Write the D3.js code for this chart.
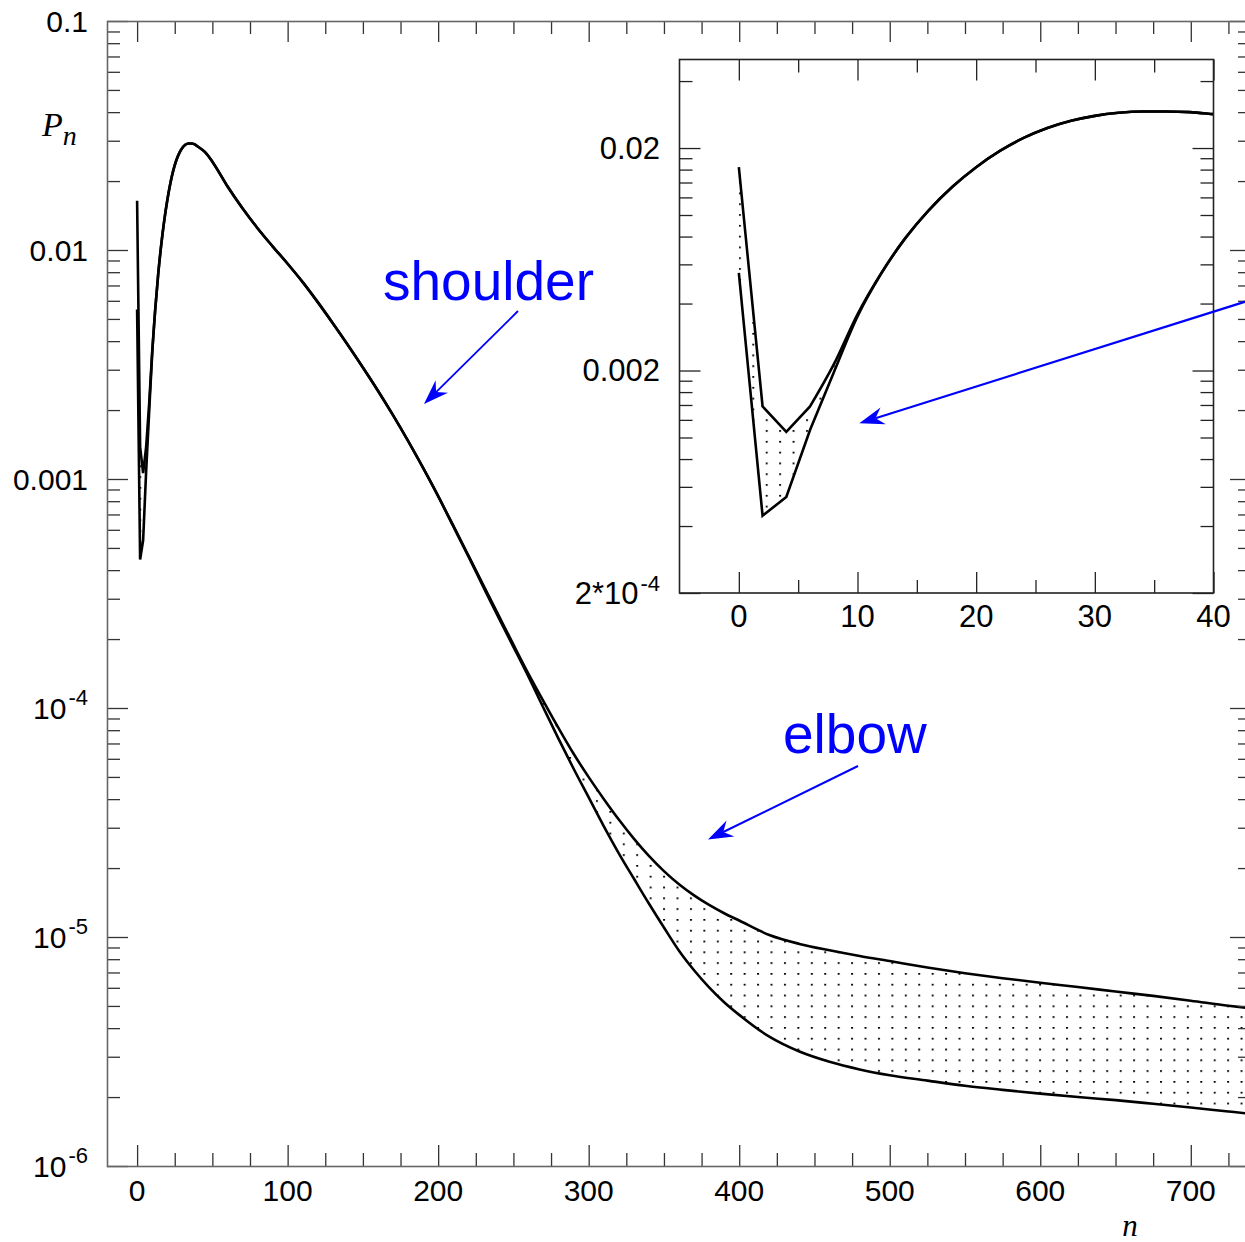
<!DOCTYPE html>
<html>
<head>
<meta charset="utf-8">
<script src="https://cdn.jsdelivr.net/npm/d3@7"></script>
<style>
  html, body { margin: 0; padding: 0; background: #fff; }
  svg { display: block; }
</style>
</head>
<body>
<svg id="chart" width="1245" height="1242"></svg>
<script>
// Occupation probability P_n for two parameter sets: they coincide up to the
// "shoulder" and separate past the "elbow"; the band between them is dotted.
const nValues = [0, 2, 4, 6, 8, 10, 12, 14, 16, 18, 20, 22, 24, 26, 28, 30, 32, 34, 36, 38, 40,
  45, 50, 60, 70, 80, 90, 100, 110, 120, 130, 140, 150, 160, 170, 180, 190, 200, 210, 220,
  230, 240, 250, 260, 270, 280, 290, 300, 310, 320, 330, 340, 350, 360, 370, 380, 390, 400,
  420, 440, 460, 480, 500, 525, 550, 575, 600, 625, 650, 675, 700, 725, 740];

const upperPn = [0.0164, 0.00138, 0.00106, 0.00138, 0.00213, 0.00358, 0.00548, 0.00783, 0.0105,
  0.0134, 0.0164, 0.0194, 0.0222, 0.0246, 0.0265, 0.0279, 0.0288, 0.0292, 0.0292, 0.0290, 0.0284,
  0.0268, 0.0243, 0.01897, 0.0152, 0.01245, 0.01038, 0.00871, 0.00724, 0.00592, 0.00479, 0.00385,
  0.00307, 0.00243, 0.00190, 0.001466, 0.001117, 0.000841, 0.000627, 0.000465,
  0.000344, 0.000255, 0.000189, 0.000141, 0.000107, 8.17e-5, 6.31e-5, 4.99e-5, 4.01e-5, 3.26e-5,
  2.69e-5, 2.26e-5, 1.94e-5, 1.70e-5, 1.52e-5, 1.38e-5, 1.27e-5, 1.18e-5,
  1.02e-5, 9.33e-6, 8.75e-6, 8.26e-6, 7.85e-6, 7.36e-6, 6.95e-6, 6.61e-6, 6.31e-6, 6.05e-6,
  5.78e-6, 5.53e-6, 5.27e-6, 5.01e-6, 4.88e-6];

const lowerPn = [0.0055, 0.000445, 0.00054, 0.00108, 0.00196, 0.00350, 0.00545, 0.00783, 0.0105,
  0.0134, 0.0164, 0.0194, 0.0222, 0.0246, 0.0265, 0.0279, 0.0288, 0.0292, 0.0292, 0.0290, 0.0284,
  0.0268, 0.0243, 0.01897, 0.0152, 0.01245, 0.01038, 0.00871, 0.00724, 0.00592, 0.00479, 0.00385,
  0.00307, 0.00243, 0.00190, 0.001466, 0.001117, 0.000841, 0.000622, 0.000460,
  0.000338, 0.000249, 0.000185, 0.000137, 1.00e-4, 7.33e-5, 5.43e-5, 4.07e-5, 3.05e-5, 2.32e-5,
  1.80e-5, 1.40e-5, 1.10e-5, 8.71e-6, 7.16e-6, 6.03e-6, 5.19e-6, 4.57e-6,
  3.67e-6, 3.16e-6, 2.85e-6, 2.64e-6, 2.49e-6, 2.36e-6, 2.24e-6, 2.15e-6, 2.07e-6, 2.00e-6,
  1.94e-6, 1.87e-6, 1.80e-6, 1.73e-6, 1.69e-6];

const mainXTicks = [0, 100, 200, 300, 400, 500, 600, 700];
const mainYTicks = [1e-1, 1e-2, 1e-3, 1e-4, 1e-5, 1e-6];
const insetXTicks = [0, 10, 20, 30, 40];
const insetYTicks = [2e-4, 2e-3, 2e-2];
const insetYTickLabels = [["2*10", "-4"], ["0.002", ""], ["0.02", ""]];
const annotationTexts = ["shoulder", "elbow"];

const data = nValues.map((n, i) => ({ n, hi: upperPn[i], lo: lowerPn[i] }));
// the first few even-n points are joined by straight segments, the rest smoothly
const SPLIT_N = 6;
const headData = data.filter(d => d.n <= SPLIT_N);
const tailData = data.filter(d => d.n >= SPLIT_N);

const svg = d3.select("#chart");
const FONT = "'Liberation Sans', Arial, Helvetica, sans-serif";
const SERIF = "'Liberation Serif', 'Times New Roman', serif";

// ---------- main panel ----------
const M = { left: 107, right: 1251, top: 21, bottom: 1166 };
const x = d3.scaleLinear().domain([-20, 740]).range([M.left, M.right]);
const y = d3.scaleLog().domain([1e-6, 0.1]).range([M.bottom, M.top]);

const defs = svg.append("defs");
function dotPattern(id, ox, oy) {
  const p = defs.append("pattern").attr("id", id)
    .attr("patternUnits", "userSpaceOnUse")
    .attr("x", ox).attr("y", oy).attr("width", 13.43).attr("height", 10.8);
  p.append("rect").attr("x", 0).attr("y", 0).attr("width", 2).attr("height", 1.7).attr("fill", "#000");
}
dotPattern("dotsMain", 5, 1);
dotPattern("dotsInset", 0.2, 8.9);

defs.append("clipPath").attr("id", "clipMain").append("rect")
  .attr("x", M.left).attr("y", M.top).attr("width", M.right - M.left).attr("height", M.bottom - M.top);

function logMinor(lo, hi, steps) {
  const out = [];
  for (let e = Math.floor(Math.log10(lo)) - 1; e <= Math.ceil(Math.log10(hi)); e++) {
    for (const m of steps) {
      const v = +(m * Math.pow(10, e)).toPrecision(4);
      if (v > lo * 1.0001 && v < hi * 0.9999) out.push(v);
    }
  }
  return out;
}
const mainXMinor = d3.range(0, 741, 25).filter(v => v % 100 !== 0);
const mainYMinor = logMinor(1e-6, 0.1, [2, 3, 4, 5, 6, 7, 8, 9]);

function drawTicks(g, scale, orient, pos, values, len, color) {
  const axisFn = { bottom: d3.axisBottom, top: d3.axisTop, left: d3.axisLeft, right: d3.axisRight }[orient];
  const ax = axisFn(scale).tickValues(values).tickSize(-len).tickSizeOuter(0).tickFormat("");
  const tr = (orient === "bottom" || orient === "top") ? `translate(0,${pos})` : `translate(${pos},0)`;
  const a = g.append("g").attr("transform", tr).call(ax);
  a.select(".domain").remove();
  a.selectAll(".tick line").attr("stroke", color).attr("stroke-width", 1.3);
}

function drawBand(g, xs, ys, patternId) {
  const areaGen = c => d3.area().x(d => xs(d.n)).y0(d => ys(d.lo)).y1(d => ys(d.hi)).curve(c);
  g.append("path").datum(headData).attr("d", areaGen(d3.curveLinear)).attr("fill", `url(#${patternId})`);
  g.append("path").datum(tailData).attr("d", areaGen(d3.curveMonotoneX)).attr("fill", `url(#${patternId})`);
  for (const key of ["hi", "lo"]) {
    const lineGen = c => d3.line().x(d => xs(d.n)).y(d => ys(d[key])).curve(c);
    const path = lineGen(d3.curveLinear)(headData) + lineGen(d3.curveMonotoneX)(tailData).replace(/^M/, "L");
    g.append("path").attr("d", path).attr("fill", "none")
      .attr("stroke", "#000").attr("stroke-width", 2.6).attr("stroke-linejoin", "miter");
  }
}

const gMain = svg.append("g");
const plotMain = gMain.append("g").attr("clip-path", "url(#clipMain)");
drawBand(plotMain, x, y, "dotsMain");

const tickCol = "#333";
drawTicks(gMain, x, "bottom", M.bottom, mainXTicks, 21, tickCol);
drawTicks(gMain, x, "bottom", M.bottom, mainXMinor, 13, tickCol);
drawTicks(gMain, x, "top", M.top, mainXTicks, 21, tickCol);
drawTicks(gMain, x, "top", M.top, mainXMinor, 13, tickCol);
drawTicks(gMain, y, "left", M.left, mainYTicks, 21, tickCol);
drawTicks(gMain, y, "left", M.left, mainYMinor, 13, tickCol);
drawTicks(gMain, y, "right", M.right, mainYTicks, 21, tickCol);
drawTicks(gMain, y, "right", M.right, mainYMinor, 13, tickCol);
gMain.append("rect")
  .attr("x", M.left + 0.5).attr("y", M.top + 0.5)
  .attr("width", M.right - M.left).attr("height", M.bottom - M.top)
  .attr("fill", "none").attr("stroke", "#666").attr("stroke-width", 1.6);

gMain.selectAll("text.xlab").data(mainXTicks).join("text")
  .attr("class", "xlab")
  .attr("x", d => x(d)).attr("y", M.bottom + 35)
  .attr("text-anchor", "middle").attr("font-family", FONT).attr("font-size", 30)
  .attr("fill", "#000").text(d => d);

function powerLabel(sel, base, sup, supFs, supDy) {
  sel.text(null);
  sel.append("tspan").text(base);
  if (sup) sel.append("tspan").attr("font-size", supFs).attr("dx", 2).attr("dy", supDy).text(sup);
}
gMain.selectAll("text.ylab").data(mainYTicks).join("text")
  .attr("class", "ylab")
  .attr("x", 88).attr("y", d => y(d) + 10.5)
  .attr("text-anchor", "end").attr("font-family", FONT).attr("font-size", 30).attr("fill", "#000")
  .each(function (d) {
    const e = Math.round(Math.log10(d));
    if (e >= -3) powerLabel(d3.select(this), d.toFixed(-e), "", 22, 0);
    else powerLabel(d3.select(this), "10", String(e), 22, -14);
  });

const pn = svg.append("text").attr("x", 42).attr("y", 136)
  .attr("font-family", SERIF).attr("font-style", "italic").attr("fill", "#000");
pn.append("tspan").attr("font-size", 34).text("P");
pn.append("tspan").attr("font-size", 28).attr("dy", 9).text("n");
svg.append("text").attr("x", 1130).attr("y", 1236).attr("text-anchor", "middle")
  .attr("font-family", SERIF).attr("font-style", "italic").attr("font-size", 31)
  .attr("fill", "#000").text("n");

// ---------- inset ----------
const I = { left: 679.5, right: 1213.5, top: 59.5, bottom: 593 };
const xi = d3.scaleLinear().domain([-5, 40]).range([I.left, I.right]);
const yi = d3.scaleLog().domain([2e-4, 0.05]).range([I.bottom, I.top]);
defs.append("clipPath").attr("id", "clipInset").append("rect")
  .attr("x", I.left).attr("y", I.top).attr("width", I.right - I.left).attr("height", I.bottom - I.top);

const gIn = svg.append("g");
gIn.append("rect").attr("x", I.left).attr("y", I.top)
  .attr("width", I.right - I.left).attr("height", I.bottom - I.top).attr("fill", "#fff");
const plotIn = gIn.append("g").attr("clip-path", "url(#clipInset)");
drawBand(plotIn, xi, yi, "dotsInset");

const insetXMinor = [5, 15, 25, 35];
const insetYMinor = logMinor(2e-4, 0.05, [2, 4, 6, 8, 10, 12, 14, 16, 18])
  .filter(v => !insetYTicks.some(t => Math.abs(t - v) / t < 1e-6));
const insetYMinorSet = Array.from(new Set(insetYMinor));

const inTick = "#222";
drawTicks(gIn, xi, "bottom", I.bottom, insetXTicks, 21, inTick);
drawTicks(gIn, xi, "bottom", I.bottom, insetXMinor, 13, inTick);
drawTicks(gIn, xi, "top", I.top, insetXTicks, 21, inTick);
drawTicks(gIn, xi, "top", I.top, insetXMinor, 13, inTick);
drawTicks(gIn, yi, "left", I.left, insetYTicks, 21, inTick);
drawTicks(gIn, yi, "left", I.left, insetYMinorSet, 13, inTick);
drawTicks(gIn, yi, "right", I.right, insetYTicks, 21, inTick);
drawTicks(gIn, yi, "right", I.right, insetYMinorSet, 13, inTick);
gIn.append("rect").attr("x", I.left).attr("y", I.top)
  .attr("width", I.right - I.left).attr("height", I.bottom - I.top)
  .attr("fill", "none").attr("stroke", "#222").attr("stroke-width", 1.6);

gIn.selectAll("text.ixlab").data(insetXTicks).join("text")
  .attr("class", "ixlab")
  .attr("x", d => xi(d)).attr("y", I.bottom + 34)
  .attr("text-anchor", "middle").attr("font-family", FONT).attr("font-size", 31)
  .attr("fill", "#000").text(d => d);
gIn.selectAll("text.iylab").data(insetYTicks).join("text")
  .attr("class", "iylab")
  .attr("x", 660).attr("y", d => yi(d) + 10.5)
  .attr("text-anchor", "end").attr("font-family", FONT).attr("font-size", 31).attr("fill", "#000")
  .each(function (d, i) {
    const [b, s] = insetYTickLabels[i];
    powerLabel(d3.select(this), b, s, 22, -13);
  });

// ---------- annotations ----------
const BLUE = "#0000ff";
svg.append("text").attr("x", 383).attr("y", 300).attr("font-family", FONT).attr("font-size", 55)
  .attr("fill", BLUE).text(annotationTexts[0]);
svg.append("text").attr("x", 783).attr("y", 753).attr("font-family", FONT).attr("font-size", 55)
  .attr("fill", BLUE).text(annotationTexts[1]);

function arrow(x0, y0, x1, y1, sw) {
  const dx = x1 - x0, dy = y1 - y0, len = Math.hypot(dx, dy);
  const ux = dx / len, uy = dy / len, px = -uy, py = ux;
  const L = 25, W = 8.8, notch = 17;
  const bx = x1 - ux * L, by = y1 - uy * L;
  svg.append("line").attr("x1", x0).attr("y1", y0)
    .attr("x2", x1 - ux * notch).attr("y2", y1 - uy * notch)
    .attr("stroke", BLUE).attr("stroke-width", sw);
  const pts = [[x1, y1], [bx + px * W, by + py * W], [x1 - ux * notch, y1 - uy * notch], [bx - px * W, by - py * W]];
  svg.append("path").attr("d", d3.line()(pts) + "Z").attr("fill", BLUE);
}
arrow(518, 311, 424, 404, 1.8);
arrow(858, 766, 708, 839.5, 2);
arrow(1262, 296.4, 859.3, 423.3, 2.2);
</script>
</body>
</html>
